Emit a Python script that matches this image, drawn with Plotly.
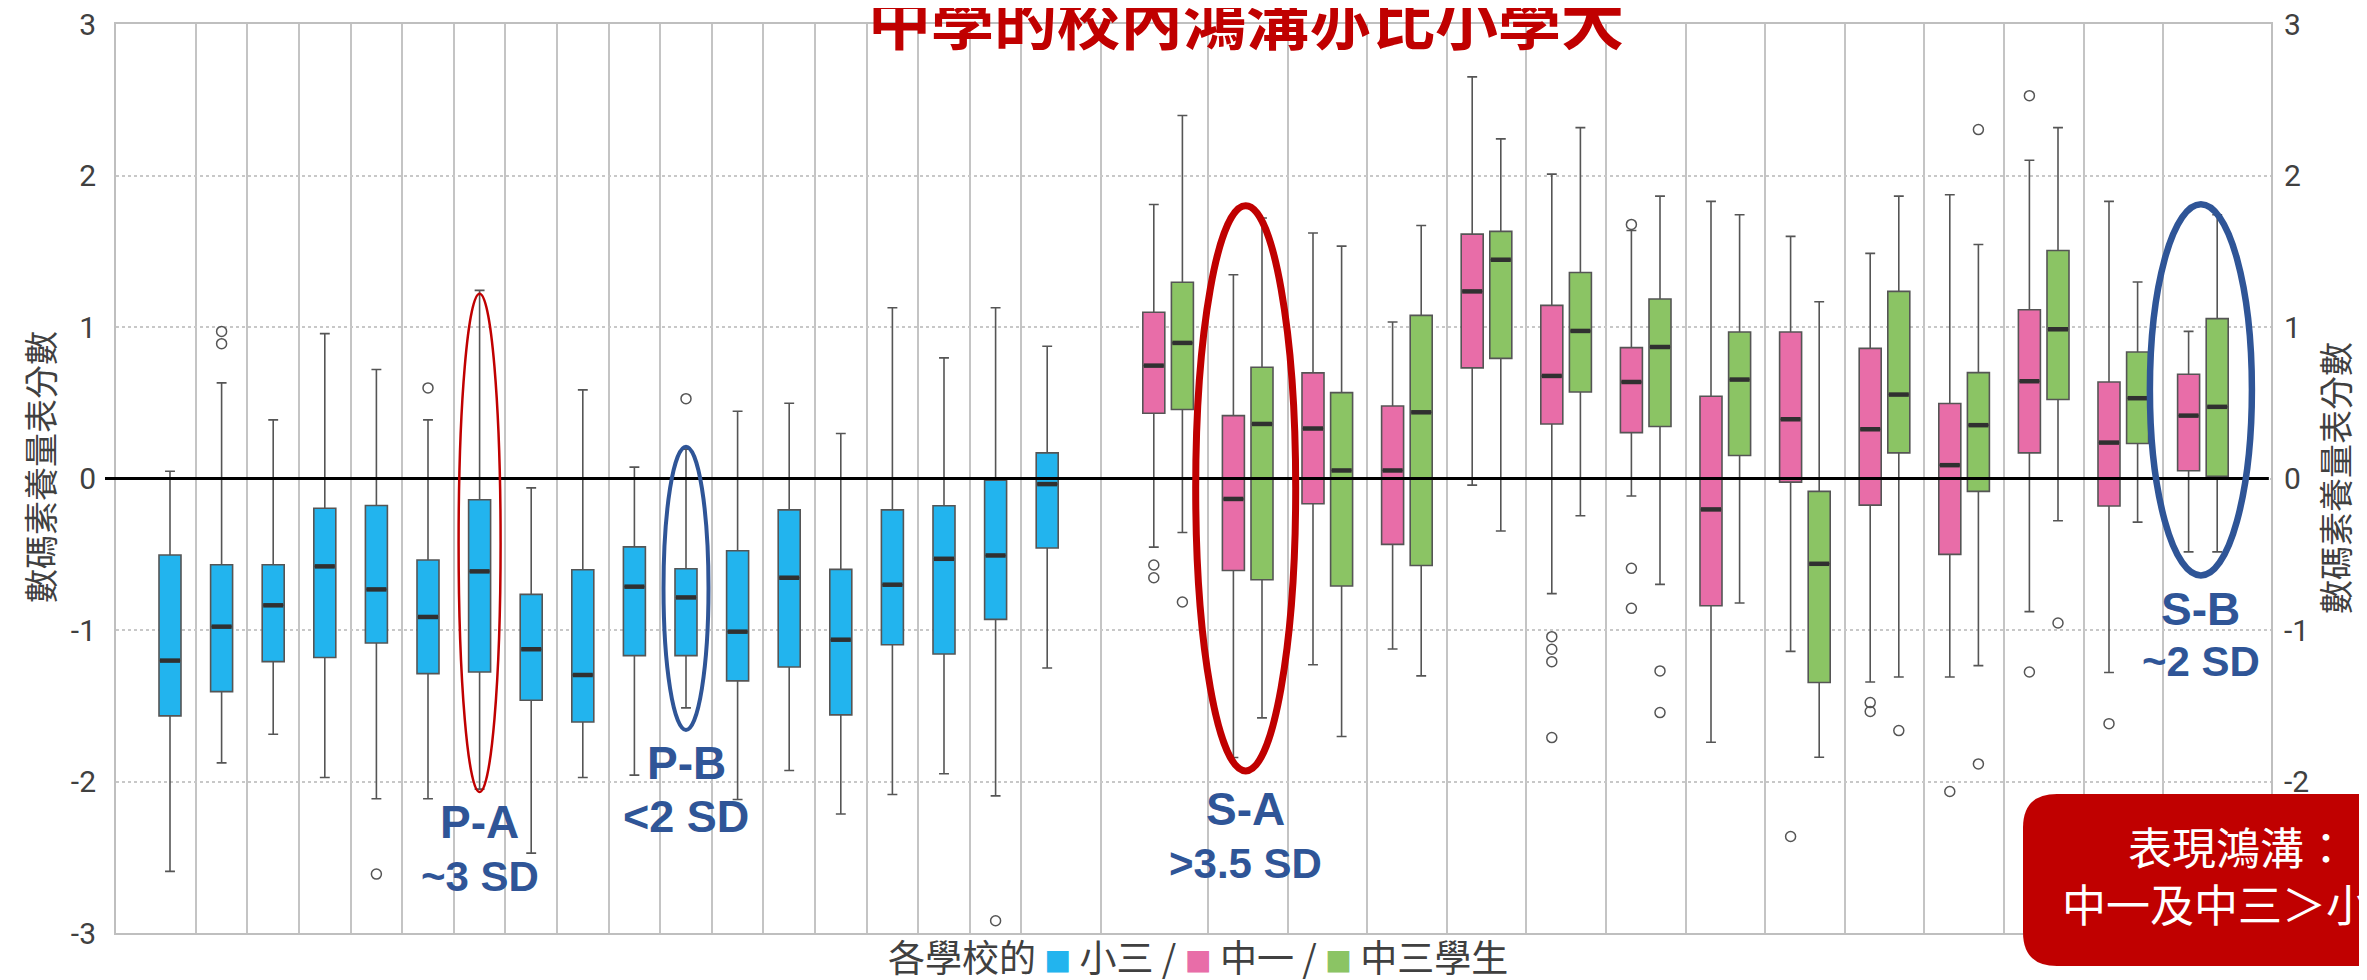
import plotly.graph_objects as go

# ---------------- data ----------------
# Primary 3 (小三), 18 schools
p3_low = [-2.593, -1.877, -1.688, -1.974, -2.114, -2.114, -2.05, -2.473, -1.974,
          -1.958, -1.514, -2.119, -1.927, -2.215, -2.086, -1.949, -2.095, -1.251]
p3_q1 = [-1.567, -1.407, -1.209, -1.182, -1.086, -1.288, -1.277, -1.464, -1.607,
         -1.169, -1.169, -1.336, -1.244, -1.560, -1.097, -1.158, -0.930, -0.459]
p3_median = [-1.202, -0.978, -0.837, -0.580, -0.732, -0.914, -0.613, -1.127, -1.297,
             -0.714, -0.785, -1.011, -0.655, -1.064, -0.701, -0.530, -0.508, -0.037]
p3_q3 = [-0.505, -0.569, -0.569, -0.196, -0.178, -0.538, -0.140, -0.765, -0.602,
         -0.451, -0.596, -0.477, -0.207, -0.600, -0.207, -0.180, -0.011, 0.169]
p3_high = [0.048, 0.631, 0.387, 0.956, 0.719, 0.387, 1.242, -0.062, 0.585,
           0.075, 0.193, 0.444, 0.497, 0.297, 1.127, 0.796, 1.127, 0.873]
p3_outliers = [[], [0.971, 0.890], [], [], [-2.611], [0.598], [], [], [],
               [], [0.527], [], [], [], [], [], [-2.919], []]

# Secondary 1 (中一), 14 schools
s1_low = [-0.453, -1.842, -1.229, -1.125, -0.044, -0.760, -0.116, -1.741, -1.141,
          -1.343, -1.310, -0.879, -1.281, -0.484]
s1_q1 = [0.431, -0.607, -0.167, -0.435, 0.730, 0.360, 0.303, -0.840, -0.024,
         -0.176, -0.501, 0.169, -0.182, 0.051]
s1_median = [0.745, -0.135, 0.330, 0.053, 1.235, 0.677, 0.637, -0.204, 0.391,
             0.325, 0.088, 0.642, 0.237, 0.415]
s1_q3 = [1.097, 0.415, 0.697, 0.479, 1.613, 1.143, 0.864, 0.543, 0.967,
         0.859, 0.495, 1.114, 0.637, 0.688]
s1_high = [1.809, 1.345, 1.620, 1.033, 2.651, 2.009, 1.637, 1.829, 1.598,
           1.486, 1.873, 2.101, 1.829, 0.971]
s1_outliers = [[-0.571, -0.655], [], [], [], [], [-1.044, -1.127, -1.209, -1.710],
               [1.677, -0.593, -0.857], [], [-2.363], [-1.479, -1.538], [-2.066],
               [2.527, -1.277], [-1.618], []]

# Secondary 3 (中三), 14 schools
s3_low = [-0.356, -1.580, -1.703, -1.303, -0.347, -0.246, -0.699, -0.822, -1.840,
          -1.310, -1.235, -0.279, -0.288, -0.484]
s3_q1 = [0.455, -0.668, -0.710, -0.574, 0.793, 0.571, 0.343, 0.152, -1.347,
         0.169, -0.085, 0.521, 0.231, 0.015]
s3_median = [0.895, 0.360, 0.053, 0.437, 1.444, 0.974, 0.868, 0.653, -0.563,
             0.554, 0.352, 0.985, 0.530, 0.473]
s3_q3 = [1.295, 0.734, 0.567, 1.077, 1.631, 1.360, 1.185, 0.967, -0.085,
         1.235, 0.699, 1.505, 0.835, 1.055]
s3_high = [2.396, 1.719, 1.534, 1.670, 2.242, 2.316, 1.864, 1.741, 1.167,
           1.864, 1.545, 2.316, 1.297, 1.741]
s3_outliers = [[-0.815], [], [], [], [], [], [-1.270, -1.545], [], [],
               [-1.664], [2.303, -1.884], [-0.954], [], []]

y_ticks = [-3, -2, -1, 0, 1, 2, 3]
y_ticktext = ["-3", "-2", "-1", "0", "1", "2", "3"]

# highlighted schools: (group, index, label, spread)
highlights = [("p3", 6, "P-A", "~3 SD"), ("p3", 10, "P-B", "<2 SD"),
              ("sec", 1, "S-A", ">3.5 SD"), ("sec", 13, "S-B", "~2 SD")]

# ---------------- layout constants ----------------
FIG_W, FIG_H = 2367, 980
ML, MR, MT, MB = 108, 104, 16, 55
PW = FIG_W - ML - MR
PH = FIG_H - MT - MB
P_START, P_STEP = 54, 51.6
S_START, S_STEP, S_GAP = 1037.8, 79.6, 28.6
BOX_W = 22

C_P3, C_S1, C_S3 = "#22B4EE", "#E86DA8", "#8BC464"
C_LINE = "#555555"
C_RED, C_BLUE = "#C00000", "#2F5597"
TXT = "#404040"

p3_x = [P_START + P_STEP * i for i in range(len(p3_median))]
s1_x = [S_START + S_STEP * j for j in range(len(s1_median))]
s3_x = [v + S_GAP for v in s1_x]
pair_x = [v + S_GAP / 2 for v in s1_x]

separators = ([P_START + P_STEP * (i + 0.5) for i in range(len(p3_x) - 1)]
              + [p3_x[-1] + 53.6]
              + [pair_x[j] + S_STEP / 2 for j in range(len(pair_x) - 1)])

fig = go.Figure()


def add_group(xs, q1, med, q3, lo, hi, outl, color, name):
    fig.add_trace(go.Box(
        x=xs, q1=q1, median=med, q3=q3, lowerfence=lo, upperfence=hi,
        width=BOX_W, whiskerwidth=0.45, fillcolor=color,
        line=dict(color=C_LINE, width=1.6), boxpoints=False,
        name=name, showlegend=False))
    mx, my = [], []
    for x, m in zip(xs, med):
        mx += [x - BOX_W / 2 + 1, x + BOX_W / 2 - 1, None]
        my += [m, m, None]
    fig.add_trace(go.Scatter(x=mx, y=my, mode="lines",
                             line=dict(color="#303030", width=4.5),
                             hoverinfo="skip", showlegend=False))
    ox, oy = [], []
    for x, vals in zip(xs, outl):
        for v in vals:
            ox.append(x)
            oy.append(v)
    fig.add_trace(go.Scatter(x=ox, y=oy, mode="markers",
                             marker=dict(symbol="circle-open", size=10,
                                         color=C_LINE, line=dict(width=1.5)),
                             name=name, showlegend=False))


add_group(p3_x, p3_q1, p3_median, p3_q3, p3_low, p3_high, p3_outliers, C_P3, "小三")
add_group(s1_x, s1_q1, s1_median, s1_q3, s1_low, s1_high, s1_outliers, C_S1, "中一")
add_group(s3_x, s3_q1, s3_median, s3_q3, s3_low, s3_high, s3_outliers, C_S3, "中三")

# invisible trace to bind the right-hand axis
fig.add_trace(go.Scatter(x=[None], y=[None], yaxis="y2", showlegend=False,
                         hoverinfo="skip"))

shapes = []
annotations = []

# zero line (extends slightly left of the axis)
shapes.append(dict(type="line", xref="paper", yref="y", x0=-11 / PW, x1=0.999,
                   y0=0, y1=0, line=dict(color="black", width=3.2), layer="above"))

# ellipses around highlighted schools + labels
ell_style = {
    "P-A": dict(color=C_RED, width=2.5, half=21, lo=-2.07, hi=1.22,
                ly=-2.27, sy=-2.63, lsize=46, ssize=42),
    "P-B": dict(color=C_BLUE, width=4, half=22.5, lo=-1.66, hi=0.21,
                ly=-1.88, sy=-2.23, lsize=46, ssize=45),
    "S-A": dict(color=C_RED, width=7, half=50, lo=-1.93, hi=1.80,
                ly=-2.18, sy=-2.54, lsize=46, ssize=42),
    "S-B": dict(color=C_BLUE, width=6.5, half=51, lo=-0.64, hi=1.81,
                ly=-0.86, sy=-1.21, lsize=46, ssize=42),
}
for grp, idx, lab, spread in highlights:
    st = ell_style[lab]
    cx = p3_x[idx] if grp == "p3" else pair_x[idx] - 2
    shapes.append(dict(type="circle", xref="x", yref="y",
                       x0=cx - st["half"], x1=cx + st["half"],
                       y0=st["lo"], y1=st["hi"],
                       line=dict(color=st["color"], width=st["width"]),
                       layer="above"))
    annotations.append(dict(x=cx, y=st["ly"], xref="x", yref="y", text=lab,
                            showarrow=False, xanchor="center", yanchor="middle",
                            font=dict(family="Liberation Sans", size=st["lsize"],
                                      color=C_BLUE, weight="bold")))
    annotations.append(dict(x=cx, y=st["sy"], xref="x", yref="y", text=spread,
                            showarrow=False, xanchor="center", yanchor="middle",
                            font=dict(family="Liberation Sans", size=st["ssize"],
                                      color=C_BLUE, weight="bold")))


def px2paper(px, py):
    return (px - ML) / PW, (FIG_H - MB - py) / PH


def P(x, y):
    a, b = px2paper(x, y)
    return f"{a:.5f},{b:.5f}"


# red rounded call-out box in the bottom-right corner
bx0, by0, bx1, by1, rad = 2015, 786, 2430, 958, 34
path = (f"M {P(bx0 + rad, by0)} L {P(bx1, by0)} L {P(bx1, by1)} L {P(bx0 + rad, by1)} "
        f"Q {P(bx0, by1)} {P(bx0, by1 - rad)} L {P(bx0, by0 + rad)} "
        f"Q {P(bx0, by0)} {P(bx0 + rad, by0)} Z")
shapes.append(dict(type="path", xref="paper", yref="paper", path=path,
                   fillcolor=C_RED, line=dict(width=0), layer="above"))
tx, ty = px2paper(2230, 866)
annotations.append(dict(x=tx, y=ty, xref="paper", yref="paper",
                        text="表現鴻溝：<br>中一及中三＞小三", showarrow=False,
                        xanchor="center", yanchor="middle", align="center",
                        font=dict(family="Noto Sans CJK TC", size=44, color="white")))

# title (partly cut off by the top edge, as in the original)
tx, ty = px2paper(1238, 9)
annotations.append(dict(x=tx, y=ty, xref="paper", yref="paper",
                        text="中學的校內鴻溝亦比小學大", showarrow=False,
                        xanchor="center", yanchor="middle",
                        font=dict(family="Noto Sans CJK TC", size=63,
                                  color=C_RED, weight="bold")))

# axis titles
for xpx, ypx in [(31, 459), (2326, 470)]:
    ax_, ay_ = px2paper(xpx, ypx)
    annotations.append(dict(x=ax_, y=ay_, xref="paper", yref="paper",
                            text="數碼素養量表分數", textangle=-90, showarrow=False,
                            xanchor="center", yanchor="middle",
                            font=dict(family="Noto Sans CJK TC", size=34, color=TXT)))

# x-axis caption with colour keys
sq = "<span style='color:{};font-size:27px'>■</span>"
legend_text = ("各學校的 " + sq.format(C_P3) + " 小三 / " + sq.format(C_S1) + " 中一 / "
               + sq.format(C_S3) + " 中三學生")
lx, ly = px2paper(1190, 948)
annotations.append(dict(x=lx, y=ly, xref="paper", yref="paper", text=legend_text,
                        showarrow=False, xanchor="center", yanchor="middle",
                        font=dict(family="Noto Sans CJK TC", size=37, color=TXT)))

axis_font = dict(family="Roboto", size=30, color=TXT)
fig.update_layout(
    width=FIG_W, height=FIG_H,
    margin=dict(l=ML, r=MR, t=MT, b=MB, autoexpand=False),
    paper_bgcolor="white", plot_bgcolor="white",
    boxmode="overlay",
    showlegend=False,
    xaxis=dict(range=[0, PW], tickvals=separators, showticklabels=False,
               showgrid=True, gridcolor="#C4C4C4", gridwidth=1.5,
               zeroline=False, showline=True, linecolor="#BFBFBF", linewidth=2,
               mirror=True, ticks="", automargin=False),
    yaxis=dict(range=[-3, 3], tickvals=y_ticks, ticktext=y_ticktext,
               showgrid=True, gridcolor="#C8C8C8", gridwidth=1.5, griddash="dot",
               zeroline=False, showline=True, linecolor="#BFBFBF", linewidth=2,
               mirror=True, ticks="", ticklabelstandoff=12, tickfont=axis_font,
               ticklabeloverflow="allow", automargin=False),
    yaxis2=dict(range=[-3, 3], tickvals=y_ticks, ticktext=y_ticktext,
                overlaying="y", side="right", showgrid=False, zeroline=False,
                showline=False, ticks="", ticklabelstandoff=12, tickfont=axis_font,
                ticklabeloverflow="allow", automargin=False),
    shapes=shapes,
    annotations=annotations,
)

fig.write_html("out.html")
